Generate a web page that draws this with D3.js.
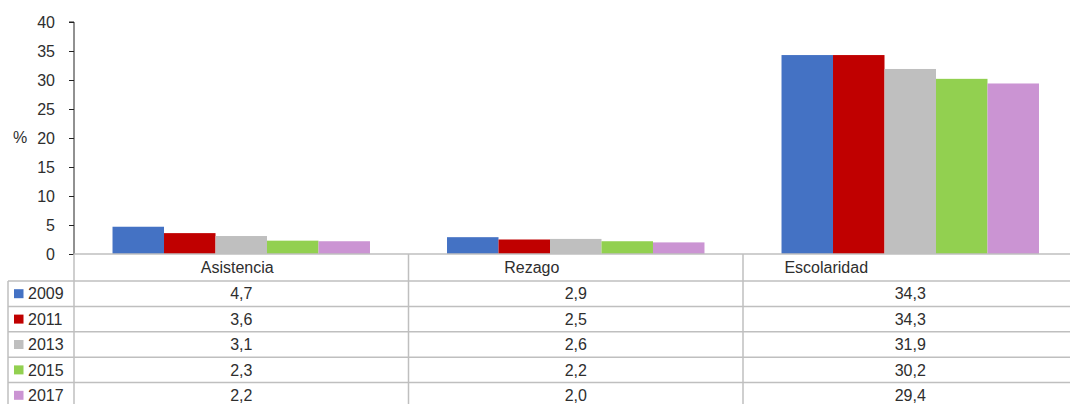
<!DOCTYPE html>
<html>
<head>
<meta charset="utf-8">
<script src="https://cdn.jsdelivr.net/npm/d3@7"></script>
<style>
  html, body { margin: 0; padding: 0; background: #fff; }
  svg { display: block; font-family: "Liberation Sans", Arial, sans-serif; }
</style>
</head>
<body>
<svg id="chart" width="1070" height="404"></svg>
<script>
const categories = ["Asistencia", "Rezago", "Escolaridad"];
const years = ["2009", "2011", "2013", "2015", "2017"];
const values2009 = [4.7, 2.9, 34.3];
const values2011 = [3.6, 2.5, 34.3];
const values2013 = [3.1, 2.6, 31.9];
const values2015 = [2.3, 2.2, 30.2];
const values2017 = [2.2, 2.0, 29.4];
const valueLabels2009 = ["4,7", "2,9", "34,3"];
const valueLabels2011 = ["3,6", "2,5", "34,3"];
const valueLabels2013 = ["3,1", "2,6", "31,9"];
const valueLabels2015 = ["2,3", "2,2", "30,2"];
const valueLabels2017 = ["2,2", "2,0", "29,4"];
const yTicks = [0, 5, 10, 15, 20, 25, 30, 35, 40];
const yAxisLabel = "%";
const colors = ["#4472C4", "#C00000", "#BFBFBF", "#92D050", "#CB94D3"];

const series = years.map((y, i) => ({
  year: y,
  color: colors[i],
  values: [values2009, values2011, values2013, values2015, values2017][i],
  labels: [valueLabels2009, valueLabels2011, valueLabels2013, valueLabels2015, valueLabels2017][i]
}));

const FONT = "'Liberation Sans', Arial, sans-serif";
const FS = "16px";
const svg = d3.select("#chart");
const plotLeft = 74, plotRight = 1077.5, plotTop = 22, plotBottom = 254;
const tableLeft = 8, headerH = 27, rowH = 25.4;
const textColor = "#2e2e2e";
const gridColor = "#BFBFBF";

const x = d3.scaleBand().domain(categories).range([plotLeft, plotRight]).paddingInner(0).paddingOuter(0);
const xs = d3.scaleBand().domain(years).range([0, x.bandwidth()]).paddingInner(0).paddingOuter(0.748);
const y = d3.scaleLinear().domain([0, 40]).range([plotBottom, plotTop]);

// bars
const groups = svg.append("g").selectAll("g").data(series).join("g").attr("fill", d => d.color);
groups.selectAll("rect")
  .data(d => d.values.map((v, i) => ({ cat: categories[i], v, year: d.year })))
  .join("rect")
  .attr("x", d => x(d.cat) + xs(d.year))
  .attr("width", xs.bandwidth())
  .attr("y", d => y(d.v))
  .attr("height", d => y(0) - y(d.v));

// y axis
const yAxis = d3.axisLeft(y).tickValues(yTicks).tickSize(5).tickPadding(14).tickFormat(d3.format("d"));
const ya = svg.append("g").attr("transform", `translate(${plotLeft},0)`).call(yAxis);
ya.select(".domain").attr("stroke", "#222").attr("d", `M-5,${plotTop}H0V${plotBottom}`);
ya.selectAll(".tick line").attr("stroke", "#222");
ya.selectAll(".tick text").attr("fill", textColor).style("font-size", FS).style("font-family", FONT);
svg.append("text").attr("x", 13).attr("y", y(20)).attr("dy", "0.34em")
  .attr("fill", textColor).style("font-size", FS).text(yAxisLabel);

// table
const tableTop = plotBottom;
const rowsTop = tableTop + headerH;
const nRows = series.length;
const tableBottom = 404 + 5;
const lines = svg.append("g").attr("stroke", gridColor).attr("stroke-width", 1.5).attr("fill", "none");
lines.append("line").attr("x1", plotLeft).attr("x2", plotRight + 10).attr("y1", tableTop).attr("y2", tableTop);
d3.range(nRows + 1).forEach(i => {
  const yy = rowsTop + i * rowH;
  lines.append("line").attr("x1", tableLeft).attr("x2", plotRight + 10).attr("y1", yy).attr("y2", yy);
});
lines.append("line").attr("x1", tableLeft).attr("x2", tableLeft).attr("y1", rowsTop).attr("y2", tableBottom);
categories.concat(["_end"]).forEach((c, i) => {
  const xx = plotLeft + i * x.step();
  lines.append("line").attr("x1", xx).attr("x2", xx).attr("y1", tableTop).attr("y2", tableBottom);
});

// header labels (the reference shifts each label progressively to the left)
svg.append("g").selectAll("text").data(categories).join("text")
  .attr("x", (d, i) => x(d) + x.bandwidth() / 2 - 4 - 40 * i)
  .attr("y", tableTop + headerH / 2).attr("dy", "0.36em")
  .attr("text-anchor", "middle").attr("fill", textColor).style("font-size", FS)
  .text(d => d);

// rows
const rows = svg.append("g").selectAll("g").data(series).join("g")
  .attr("transform", (d, i) => `translate(0,${rowsTop + i * rowH + rowH / 2})`);
rows.append("rect").attr("x", 14).attr("y", -4.5).attr("width", 9.5).attr("height", 9).attr("fill", d => d.color);
rows.append("text").attr("x", 28).attr("dy", "0.36em").attr("fill", textColor).style("font-size", FS).text(d => d.year);
rows.selectAll("text.val").data(d => d.labels.map((l, i) => ({ l, cat: categories[i] }))).join("text")
  .attr("class", "val")
  .attr("x", d => x(d.cat) + x.bandwidth() / 2)
  .attr("dy", "0.36em").attr("text-anchor", "middle").attr("fill", textColor).style("font-size", FS)
  .text(d => d.l);
</script>
</body>
</html>
